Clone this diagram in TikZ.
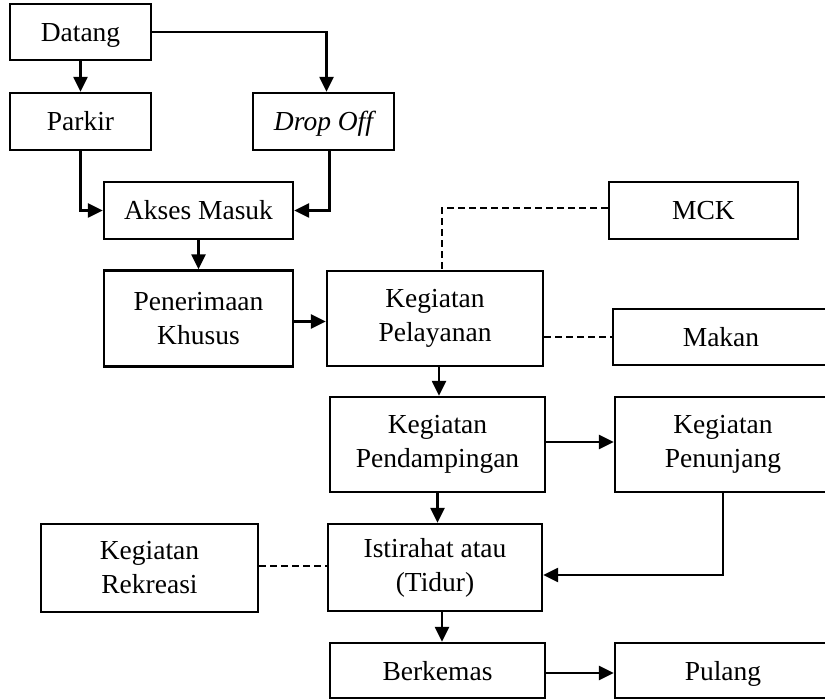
\documentclass[tikz,border=0pt]{standalone}
\usepackage{fontspec}
\setmainfont{Liberation Serif}
\usetikzlibrary{arrows.meta}

\tikzset{
  box/.style={draw, line width=2.3pt, inner sep=0pt, align=center,
    font=\fontsize{27.5}{34}\selectfont},
  oneline/.style={box, text height=19pt, text depth=0pt},
  flow/.style={line width=2.3pt, -{Triangle[length=15pt,width=14pt]}},
  link/.style={line width=2.3pt, dash pattern=on 7pt off 4pt}
}

\begin{document}
\begin{tikzpicture}[x=1pt,y=-1pt]
  \useasboundingbox (0,0) rectangle (825,700);
  \fill[white] (0,0) rectangle (825,700);
  \clip (0,0) rectangle (825,700);

  % boxes
  \node[oneline, minimum width=141pt, minimum height=56pt] (datang) at (80.5,32) {Datang};
  \node[oneline, minimum width=141pt, minimum height=57pt] (parkir) at (80.5,121.5) {Parkir};
  \node[oneline, minimum width=141pt, minimum height=57pt] (dropoff) at (323.5,121.5) {\itshape Drop Off};
  \node[oneline, minimum width=189pt, minimum height=57pt] (akses) at (198.5,210.5) {Akses Masuk};
  \node[oneline, minimum width=189pt, minimum height=57pt] (mck) at (703.5,210.5) {MCK};
  \node[box, minimum width=189pt, minimum height=96pt] (penerimaan) at (198.5,318.5) {Penerimaan\\Khusus};
  \node[box, minimum width=216pt, minimum height=95pt] (pelayanan) at (435,318.5) {Kegiatan\\Pelayanan};
  \node[oneline, minimum width=216pt, minimum height=56pt] (makan) at (721,337) {Makan};
  \node[box, minimum width=215pt, minimum height=95pt] (pendampingan) at (437.5,444.5) {Kegiatan\\Pendampingan};
  \node[box, minimum width=216pt, minimum height=95pt] (penunjang) at (723,444.5) {Kegiatan\\Penunjang};
  \node[box, minimum width=217pt, minimum height=88pt] (rekreasi) at (149.5,568) {Kegiatan\\Rekreasi};
  \node[box, minimum width=214pt, minimum height=87pt] (istirahat) at (435,567.5) {Istirahat atau\\(Tidur)};
  \node[oneline, minimum width=215pt, minimum height=55pt] (berkemas) at (437.5,670.5) {Berkemas};
  \node[oneline, minimum width=216pt, minimum height=55pt] (pulang) at (723,670.5) {Pulang};

  % main flow
  \draw[flow] (datang.south) -- (parkir.north);
  \draw[flow] (datang.east) -| ([xshift=3pt]dropoff.north);
  \draw[flow] (parkir.south) |- (akses.west);
  \draw[flow] ([xshift=6pt]dropoff.south) |- (akses.east);
  \draw[flow] (akses.south) -- (penerimaan.north);
  \draw[flow] ([yshift=-3pt]penerimaan.east) -- ([yshift=-3pt]pelayanan.west);
  \draw[flow] ([xshift=4pt]pelayanan.south) -- ([xshift=4pt]pelayanan.south |- pendampingan.north);
  \draw[flow] ([yshift=2.5pt]pendampingan.east) -- ([yshift=2.5pt]penunjang.west);
  \draw[flow] (pendampingan.south) -- (pendampingan.south |- istirahat.north);
  \draw[flow] (penunjang.south) |- ([yshift=-7.5pt]istirahat.east);
  \draw[flow] ([xshift=7pt]istirahat.south) -- ([xshift=7pt]istirahat.south |- berkemas.north);
  \draw[flow] ([yshift=-2.5pt]berkemas.east) -- ([yshift=-2.5pt]pulang.west);

  % supporting activities
  \draw[link] ([yshift=2.5pt]mck.west) -| ([xshift=7pt]pelayanan.north);
  \draw[link] (pelayanan.east |- makan.west) -- (makan.west);
  \draw[link] ([yshift=1.5pt]istirahat.west -| rekreasi.east) -- ([yshift=1.5pt]istirahat.west);
\end{tikzpicture}
\end{document}
